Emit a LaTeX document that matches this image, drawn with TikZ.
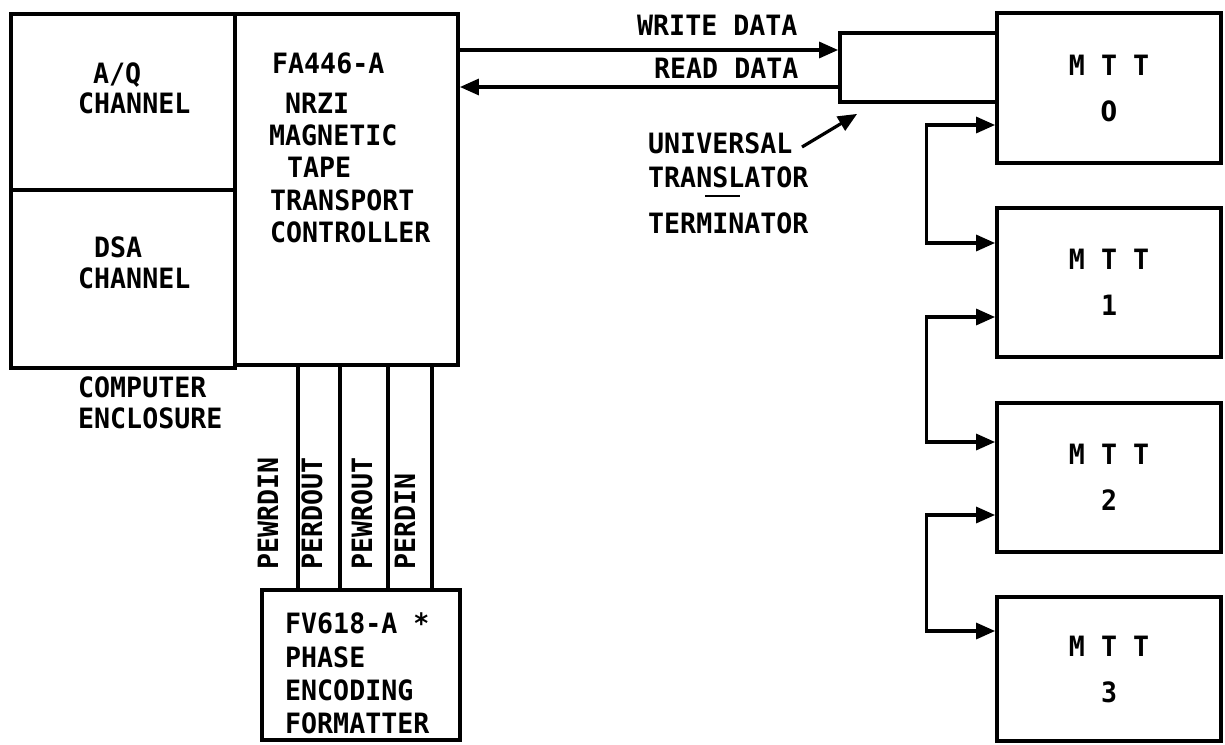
\documentclass[tikz,border=0pt]{standalone}
\usepackage{fontspec}
\newfontfamily\diagfont[FakeStretch=0.95]{DejaVu Sans Mono}
\newfontfamily\zerofont[FakeStretch=0.85]{DejaVu Sans}
\newcommand\dfont{\diagfont\bfseries\fontsize{28}{32}\selectfont}
\usetikzlibrary{arrows.meta}
\begin{document}
\begin{tikzpicture}[x=1pt,y=1pt,
  box/.style={draw, line width=3.8pt, inner sep=0pt, anchor=center},
  conn/.style={draw, line width=3.2pt},
  tip/.style={-{Triangle[length=19pt,width=16pt]}},
  tips/.style={{Triangle[length=19pt,width=16pt]}-{Triangle[length=19pt,width=16pt]}},
  txt/.style={font=\dfont, inner sep=0pt, anchor=base west},
  mtt/.style={box, minimum width=224pt, font=\dfont, align=center}
]
\useasboundingbox (0,0) rectangle (1225,-744);

% boxes
\node[box, minimum width=224pt, minimum height=176pt] (aq) at (123,-102) {};
\node[box, minimum width=224pt, minimum height=178pt] (dsa) at (123,-279) {};
\node[box, minimum width=223pt, minimum height=351pt] (fa) at (346.5,-189.5) {};
\node[box, minimum width=198pt, minimum height=150pt] (fv) at (361,-665) {};
\node[box, minimum width=157pt, minimum height=69pt] (tr) at (918.5,-67.5) {};
\node[mtt, minimum height=150pt] (m0) at (1109,-88) {M T T\\[14pt]{\zerofont\bfseries 0}};
\node[mtt, minimum height=149pt] (m1) at (1109,-282.5) {M T T\\[14pt]1};
\node[mtt, minimum height=149pt] (m2) at (1109,-477.5) {M T T\\[14pt]2};
\node[mtt, minimum height=144pt] (m3) at (1109,-669) {M T T\\[14pt]3};

% left enclosure texts
\node[txt] (aq1) at (93,-83) {A/Q};
\node[txt] (aq2) at (78,-113) {CHANNEL};
\node[txt] (ds1) at (94,-257) {DSA};
\node[txt] (ds2) at (78,-288) {CHANNEL};
\node[txt] (ce1) at (78,-397) {COMPUTER};
\node[txt] (ce2) at (78,-428) {ENCLOSURE};

% controller texts
\node[txt] (fa1) at (272,-73) {FA446-A};
\node[txt] (fa2) at (285,-113) {NRZI};
\node[txt] (fa3) at (269,-145) {MAGNETIC};
\node[txt] (fa4) at (287,-177) {TAPE};
\node[txt] (fa5) at (270,-210) {TRANSPORT};
\node[txt] (fa6) at (270,-242) {CONTROLLER};

% formatter texts
\node[txt] (fv1) at (285,-633) {FV618-A *};
\node[txt] (fv2) at (285,-667) {PHASE};
\node[txt] (fv3) at (285,-700) {ENCODING};
\node[txt] (fv4) at (285,-733) {FORMATTER};

% data labels
\node[txt] (wd) at (637,-35) {WRITE DATA};
\node[txt] (rd) at (654,-78) {READ DATA};
\node[txt] (ut1) at (648,-153) {UNIVERSAL};
\node[txt] (ut2) at (648,-187) {TRANSLATOR};
\node[txt] (ut3) at (648,-233) {TERMINATOR};
\draw[line width=2.5pt] (705,-196) -- (740,-196);

% vertical labels
\node[txt, rotate=90] (l1) at (278,-570) {PEWRDIN};
\node[txt, rotate=90] (l2) at (322,-570) {PERDOUT};
\node[txt, rotate=90] (l3) at (372,-570) {PEWROUT};
\node[txt, rotate=90] (l4) at (415,-570) {PERDIN};

% vertical signal lines
\coordinate (v1) at (298,0);
\coordinate (v2) at (340,0);
\coordinate (v3) at (388,0);
\coordinate (v4) at (432,0);
\foreach \v in {v1,v2,v3,v4}
  \draw[conn] (\v |- fa.south) -- (\v |- fv.north);

% data arrows
\coordinate (w) at (0,-50);
\coordinate (r) at (0,-87);
\draw[conn,tip] (fa.east |- w) -- (tr.west |- w);
\draw[conn,tip] (tr.west |- r) -- (fa.east |- r);

% translator pointer
\coordinate (ptr) at (802,-147);
\draw[conn,tip] (ptr) -- ([xshift=19pt,yshift=-10pt]tr.south west);

% MTT daisy chain
\draw[conn,tips] ([yshift=-37pt]m0.west) -- ++(-69,0) |- ([yshift=39.5pt]m1.west);
\draw[conn,tips] ([yshift=-34.5pt]m1.west) -- ++(-69,0) |- ([yshift=35.5pt]m2.west);
\draw[conn,tips] ([yshift=-37.5pt]m2.west) -- ++(-69,0) |- ([yshift=38pt]m3.west);
\end{tikzpicture}
\end{document}
